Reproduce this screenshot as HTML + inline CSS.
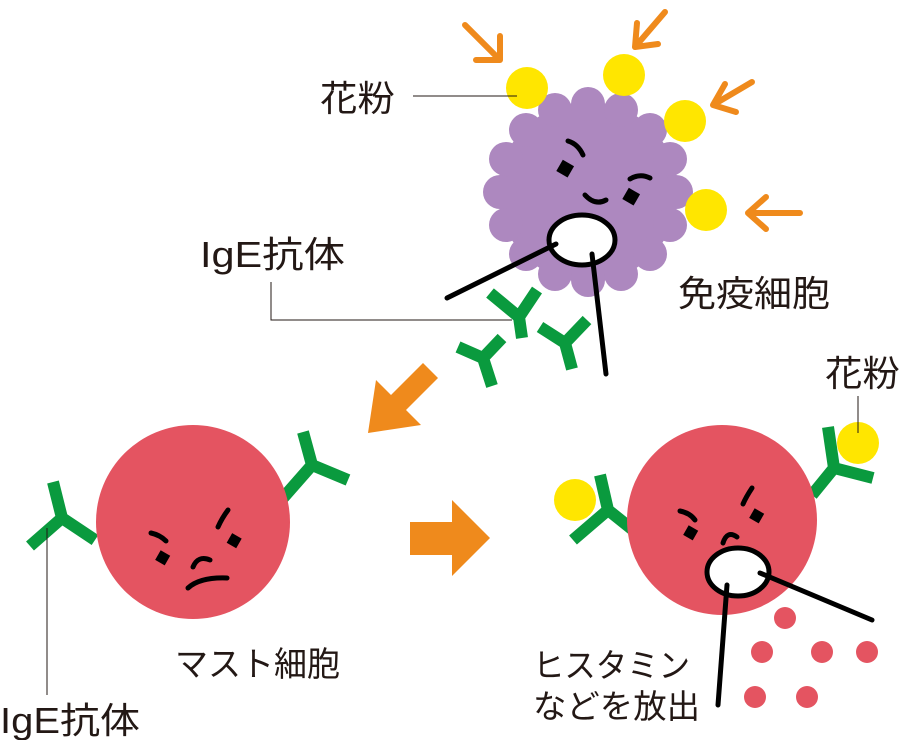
<!DOCTYPE html>
<html><head><meta charset="utf-8"><style>
body{margin:0;background:#fff}
svg text{font-family:"Liberation Sans","Noto Sans CJK JP",sans-serif;fill:#231815}
</style></head><body>
<svg width="900" height="740" viewBox="0 0 900 740" xmlns="http://www.w3.org/2000/svg">
<!-- orange small arrows -->
<g stroke="#ef8a1c" stroke-width="6" fill="none" stroke-linecap="round">
<path d="M465 25 L500 60 M500 60 L476 60 M500 60 L500 36"/>
<path d="M665 12 L635 47 M635 47 L637 23 M635 47 L658 44"/>
<path d="M752 82 L713 105 M713 105 L725 84 M713 105 L736 112"/>
<path d="M800 213 L748 213 M748 213 L766 197 M748 213 L766 229"/>
</g>
<!-- purple cell -->
<g fill="#ad88bf">
<circle cx="588" cy="192" r="90"/>
<circle cx="588" cy="104" r="17"/><circle cx="621" cy="110" r="17"/><circle cx="650" cy="130" r="17"/><circle cx="670" cy="159" r="17"/>
<circle cx="676" cy="192" r="17"/><circle cx="670" cy="225" r="17"/><circle cx="650" cy="254" r="17"/><circle cx="621" cy="274" r="17"/>
<circle cx="588" cy="280" r="17"/><circle cx="555" cy="274" r="17"/><circle cx="526" cy="254" r="17"/><circle cx="506" cy="225" r="17"/>
<circle cx="500" cy="192" r="17"/><circle cx="506" cy="159" r="17"/><circle cx="526" cy="130" r="17"/><circle cx="555" cy="110" r="17"/>
</g>
<g fill="#ffe600">
<circle cx="527" cy="88" r="21"/><circle cx="624" cy="75" r="21"/><circle cx="685" cy="121" r="21"/><circle cx="706" cy="210" r="21"/>
</g>
<!-- face -->
<g stroke="#000" stroke-width="5" fill="none" stroke-linecap="round">
<path d="M568 141 Q578 144 583 155"/><path d="M630 179 Q640 173 650 178"/><path d="M585 195 Q595 206 606 200"/>
</g>
<rect x="559" y="162" width="13" height="13" transform="rotate(30 565 168)" fill="#000"/>
<rect x="625" y="190" width="13" height="13" transform="rotate(30 631 196)" fill="#000"/>
<ellipse cx="582" cy="240" rx="33" ry="25" fill="#fff" stroke="#000" stroke-width="5"/>
<g stroke="#000" stroke-width="5" stroke-linecap="round">
<line x1="556" y1="244" x2="447" y2="298"/><line x1="592" y1="254" x2="606" y2="374"/>
</g>
<!-- antibodies -->
<g stroke="#0a9a3e" stroke-width="12" fill="none" stroke-linejoin="round">
<path d="M490 293 L519 317 L537 290 M519 317 L522 338"/>
<path d="M540 327 L565 343 L587 320 M565 343 L572 369"/>
<path d="M458 347 L483 358 L502 338 M483 358 L492 386"/>
<path d="M53 482 L62 518 L30 546 M62 518 L95 540"/>
<path d="M303 432 L312 465 L348 480 M312 465 L283 498"/>
<path d="M600 475 L608 510 L573 540 M608 510 L633 530"/>
<path d="M828 427 L834 468 L873 478 M834 468 L812 495"/>
</g>
<!-- labels top -->
<text x="320" y="111" font-size="36" textLength="75" lengthAdjust="spacingAndGlyphs">花粉</text>
<line x1="413" y1="96" x2="517" y2="96" stroke="#231815" stroke-width="1"/>
<text x="200" y="267" font-size="36" textLength="145" lengthAdjust="spacingAndGlyphs">IgE抗体</text>
<path d="M271 282 L271 320 L512 320" stroke="#231815" stroke-width="1" fill="none"/>
<text x="678" y="306" font-size="36" textLength="152" lengthAdjust="spacingAndGlyphs">免疫細胞</text>
<!-- big arrows -->
<path d="M438 378 L406 410 L421 425 L368 433 L376 380 L391 395 L423 363 Z" fill="#ef8a1c"/>
<path d="M410 522 L452 522 L452 500 L490 538 L452 576 L452 555 L410 555 Z" fill="#ef8a1c"/>
<!-- left cell -->
<circle cx="193" cy="522" r="97" fill="#e45461"/>
<g stroke="#000" stroke-width="5" fill="none" stroke-linecap="round">
<path d="M151 533 Q160 535 166 541"/><path d="M228 510 Q222 518 218 527"/><path d="M193 567 Q198 555 210 560"/><path d="M188 588 Q200 577 227 578"/>
</g>
<rect x="157" y="552" width="11" height="11" transform="rotate(30 162 558)" fill="#000"/>
<rect x="229" y="535" width="11" height="11" transform="rotate(30 234 540)" fill="#000"/>
<line x1="47" y1="528" x2="47" y2="695" stroke="#231815" stroke-width="1"/>
<text x="0" y="733" font-size="36" textLength="140" lengthAdjust="spacingAndGlyphs">IgE抗体</text>
<text x="175" y="676" font-size="34" textLength="165" lengthAdjust="spacingAndGlyphs">マスト細胞</text>
<!-- right cell -->
<circle cx="722" cy="520" r="95" fill="#e45461"/>
<circle cx="575" cy="500" r="21" fill="#ffe600"/><circle cx="858" cy="443" r="21" fill="#ffe600"/>
<g stroke="#000" stroke-width="5" fill="none" stroke-linecap="round">
<path d="M680 511 Q690 513 695 520"/><path d="M752 488 Q746 497 743 504"/><path d="M723 543 Q727 530 737 537"/>
</g>
<rect x="685" y="527" width="11" height="11" transform="rotate(30 690 533)" fill="#000"/>
<rect x="751" y="510" width="11" height="11" transform="rotate(30 756 516)" fill="#000"/>
<ellipse cx="738" cy="572" rx="31" ry="24" fill="#fff" stroke="#000" stroke-width="5"/>
<g stroke="#000" stroke-width="5" stroke-linecap="round">
<line x1="727" y1="585" x2="718" y2="705"/><line x1="760" y1="573" x2="872" y2="620"/>
</g>
<g fill="#e45461">
<circle cx="785" cy="618" r="11"/><circle cx="762" cy="652" r="11"/><circle cx="822" cy="652" r="11"/><circle cx="867" cy="652" r="11"/><circle cx="755" cy="697" r="11"/><circle cx="807" cy="697" r="11"/>
</g>
<text x="825" y="386" font-size="36" textLength="75" lengthAdjust="spacingAndGlyphs">花粉</text>
<line x1="858" y1="396" x2="858" y2="433" stroke="#231815" stroke-width="1"/>
<text x="533" y="677" font-size="33" textLength="157" lengthAdjust="spacingAndGlyphs">ヒスタミン</text>
<text x="533" y="718" font-size="33" textLength="167" lengthAdjust="spacingAndGlyphs">などを放出</text>
</svg>
</body></html>
